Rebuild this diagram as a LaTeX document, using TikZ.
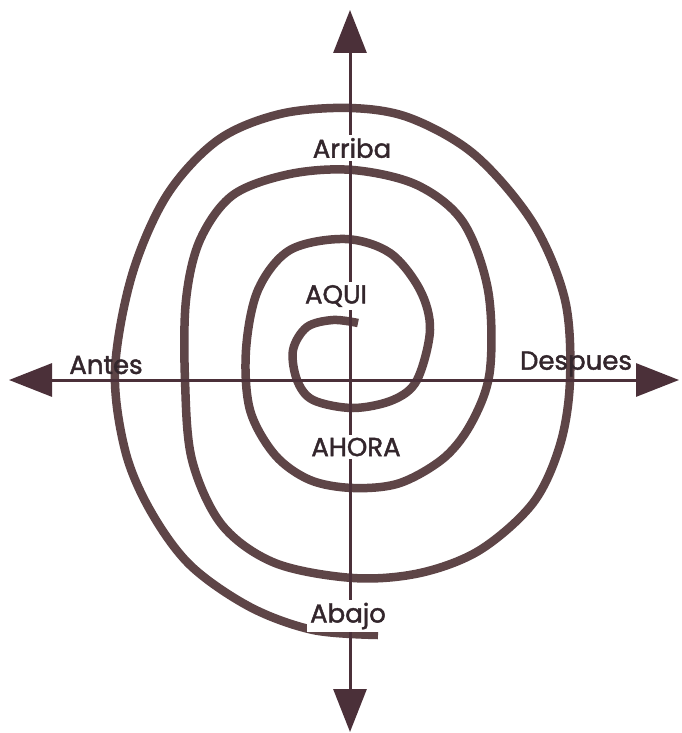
\documentclass[tikz,border=0pt]{standalone}
\usepackage{fontspec}
\newfontfamily\labfont{Poppins}[BoldFont=Poppins, BoldFeatures={FakeBold=1.6}]
\usetikzlibrary{arrows.meta}
\definecolor{spir}{HTML}{5E4547}
\definecolor{axc}{HTML}{4B3039}
\definecolor{txt}{HTML}{33262C}
\tikzset{
  spiral/.style={draw=spir, line width=8.5pt, line cap=butt, line join=round},
  axis/.style={draw=axc, line width=3pt, {Triangle[length=43pt,width=33pt]}-{Triangle[length=43pt,width=33pt]}},
  lab/.style={text=txt, font=\labfont\bfseries\fontsize{26}{28}\selectfont, inner sep=3pt},
  labbox/.style={lab, fill=white}
}
\begin{document}
\begin{tikzpicture}[x=1pt,y=-1pt]
\useasboundingbox (0,0) rectangle (681,733);
\fill[white] (0,0) rectangle (681,733);
% spiral
\draw[spiral] plot[smooth, tension=0.55] coordinates {
 (358,323) (333,320) (307,327) (293,350) (297,380) (313,400) (353,408) (393,400) (417,380)
 (430,330) (420,290) (390,253) (345,239) (290,250) (258,290) (246,350) (250,410)
 (275,455) (310,480) (353,488) (400,483) (445,457) (473,420) (490,370)
 (488,290) (463,222) (417,185) (353,170) (290,174) (233,195) (200,240) (186,300) (185,380)
 (192,460) (222,525) (275,563) (353,578) (420,573) (480,550) (533,503) (560,445) (570,380)
 (565,300) (533,223) (475,155) (410,118) (350,108) (280,114) (218,140) (167,195) (132,275) (115,370)
 (125,450) (150,510) (190,565) (250,607) (313,630) (378,635)
};
% axes
\coordinate (T) at (350,10);
\coordinate (B) at (350,732);
\coordinate (L) at (9,380);
\coordinate (R) at (679,380);
\draw[axis] (L) -- (R);
\draw[axis] (T) -- (B);
% labels
\node[labbox] (arriba) at (352,148) {Arriba};
\node[labbox] (aqui) at (336,296) {AQUI};
\node[labbox] (ahora) at (356,447) {AHORA};
\node[labbox] (abajo) at (348,616) {Abajo};
\node[lab] (antes) at (106,365) {Antes};
\node[lab] (despues) at (576,364) {Despues};
\end{tikzpicture}
\end{document}
